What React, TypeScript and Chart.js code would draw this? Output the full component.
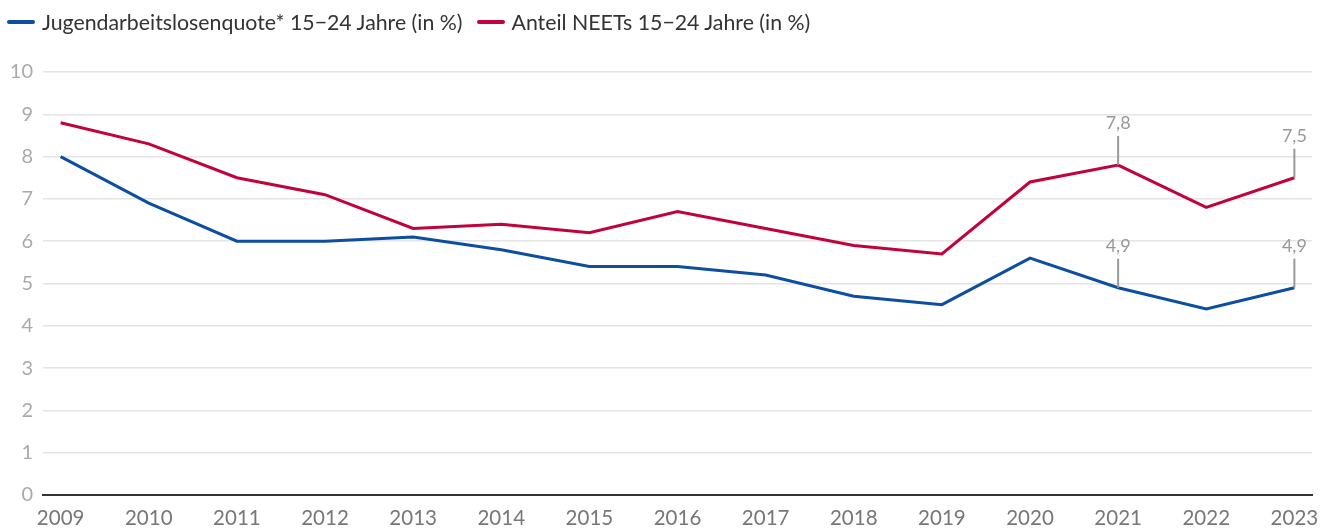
import React, { useEffect, useRef } from "react";
import { Chart, registerables } from "chart.js";

Chart.register(...registerables);

const years = [2009, 2010, 2011, 2012, 2013, 2014, 2015, 2016, 2017, 2018, 2019, 2020, 2021, 2022, 2023];
const youthUnemployment = [8.0, 6.9, 6.0, 6.0, 6.1, 5.8, 5.4, 5.4, 5.2, 4.7, 4.5, 5.6, 4.9, 4.4, 4.9];
const neetShare = [8.8, 8.3, 7.5, 7.1, 6.3, 6.4, 6.2, 6.7, 6.3, 5.9, 5.7, 7.4, 7.8, 6.8, 7.5];
const annotatedYears = [2021, 2023];
const yTicks = [0, 1, 2, 3, 4, 5, 6, 7, 8, 9, 10];

const labelBlue = "Jugendarbeitslosenquote* 15−24 Jahre (in %)";
const labelRed = "Anteil NEETs 15−24 Jahre (in %)";

const BLUE = "#0b4ea2";
const RED = "#c0033c";
const FONT = "Lato, 'Noto Sans', sans-serif";

const valueMarkers = {
  id: "valueMarkers",
  afterDatasetsDraw(chart: any) {
    const ctx = chart.ctx;
    const xs = chart.scales.x;
    const ys = chart.scales.y;
    ctx.save();
    chart.data.datasets.forEach((ds: any) => {
      annotatedYears.forEach((yr) => {
        const i = years.indexOf(yr);
        const v = ds.data[i].y;
        const px = xs.getPixelForValue(yr);
        const py = ys.getPixelForValue(v);
        ctx.strokeStyle = "#999999";
        ctx.lineWidth = 2;
        ctx.beginPath();
        ctx.moveTo(px, py);
        ctx.lineTo(px, py - 29);
        ctx.stroke();
        ctx.fillStyle = "#999999";
        ctx.font = "18px " + FONT;
        ctx.textAlign = "center";
        ctx.textBaseline = "alphabetic";
        ctx.fillText(v.toFixed(1).replace(".", ","), px, py - 36);
      });
    });
    ctx.restore();
  },
};

function LegendItem({ color, label }: { color: string; label: string }) {
  return (
    <div style={{ display: "flex", alignItems: "center" }}>
      <span
        style={{
          display: "inline-block",
          width: 28,
          height: 4,
          borderRadius: 2,
          background: color,
          marginRight: 7,
        }}
      />
      <span>{label}</span>
    </div>
  );
}

export default function App() {
  const ref = useRef<HTMLCanvasElement | null>(null);

  useEffect(() => {
    document.body.style.margin = "0";
    const canvas = ref.current;
    if (!canvas) return;
    const chart = new Chart(canvas, {
      type: "line",
      data: {
        datasets: [
          {
            label: labelBlue,
            data: years.map((y, i) => ({ x: y, y: youthUnemployment[i] })),
            borderColor: BLUE,
            backgroundColor: BLUE,
            borderWidth: 3,
            pointRadius: 0,
            tension: 0,
          },
          {
            label: labelRed,
            data: years.map((y, i) => ({ x: y, y: neetShare[i] })),
            borderColor: RED,
            backgroundColor: RED,
            borderWidth: 3,
            pointRadius: 0,
            tension: 0,
          },
        ],
      },
      options: {
        animation: false,
        responsive: false,
        maintainAspectRatio: false,
        layout: { padding: { left: 0, right: 20, top: 72, bottom: 0 } },
        plugins: {
          tooltip: { enabled: false },
          legend: { display: false },
        },
        scales: {
          x: {
            type: "linear",
            min: 2008.8,
            max: 2023.2,
            afterBuildTicks(scale: any) {
              scale.ticks = years.map((v) => ({ value: v }));
            },
            afterFit(scale: any) {
              scale.height = 35;
            },
            grid: { display: false, drawTicks: false },
            border: { display: true, color: "#333333", width: 2 },
            ticks: {
              color: "#777777",
              font: { family: FONT, size: 20.5 },
              padding: 11,
              maxRotation: 0,
              autoSkip: false,
              callback: (v: any) => String(v),
            },
          },
          y: {
            min: 0,
            max: 10,
            afterBuildTicks(scale: any) {
              scale.ticks = yTicks.map((v) => ({ value: v }));
            },
            afterFit(scale: any) {
              scale.width = 43;
            },
            grid: {
              color: (c: any) => (c.tick && c.tick.value === 0 ? "rgba(0,0,0,0)" : "#e4e4e4"),
              lineWidth: 1.5,
              drawTicks: false,
            },
            border: { display: false },
            ticks: {
              color: "#aaaaaa",
              font: { family: FONT, size: 20 },
              padding: 10,
              callback: (v: any) => String(v),
            },
          },
        },
      },
      plugins: [valueMarkers],
    } as any);
    return () => chart.destroy();
  }, []);

  return (
    <div style={{ position: "relative", width: 1332, height: 530 }}>
      <canvas ref={ref} width={1332} height={530} style={{ display: "block", width: 1332, height: 530 }} />
      <div
        style={{
          position: "absolute",
          top: 10,
          left: 7,
          display: "flex",
          gap: 14,
          fontFamily: FONT,
          fontSize: 21.3,
          lineHeight: "24px",
          color: "#333333",
          whiteSpace: "nowrap",
        }}
      >
        <LegendItem color={BLUE} label={labelBlue} />
        <LegendItem color={RED} label={labelRed} />
      </div>
    </div>
  );
}
